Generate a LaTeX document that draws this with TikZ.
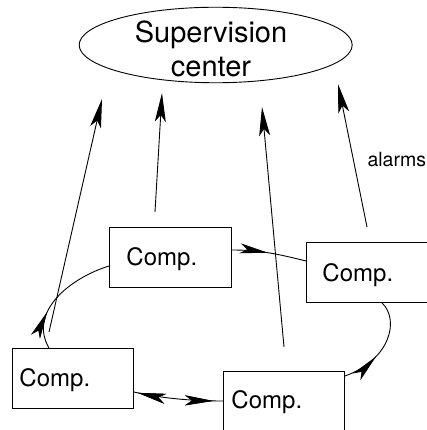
\documentclass[tikz,border=0pt]{standalone}
\usepackage{fontspec}
\setmainfont{TeX Gyre Heros}
\usetikzlibrary{arrows.meta,decorations.markings,calc,shapes.geometric}
\begin{document}
\begin{tikzpicture}[x=1pt,y=-1pt,line width=0.9pt,
  comp/.style={draw,rectangle,anchor=north west,inner sep=0pt,minimum height=60pt},
  complabel/.style={anchor=base west,inner sep=0pt,font=\fontsize{24}{28}\selectfont},
  title/.style={anchor=base,inner sep=0pt,font=\fontsize{29}{34}\selectfont},
  alarm/.style={-{Stealth[length=29pt,width=11pt,inset=7pt]}},
  midarrow/.style={postaction={decorate},decoration={markings,
    mark=at position #1 with {\arrow{Stealth[length=28pt,width=10pt,inset=7pt]}}}},
  backarrow/.style={postaction={decorate},decoration={markings,
    mark=at position #1 with {\arrowreversed{Stealth[length=28pt,width=10pt,inset=7pt]}}}}]
\useasboundingbox (0,0) rectangle (427,430);

% supervision center
\node[draw,ellipse,minimum width=273pt,minimum height=75.5pt,inner sep=0pt] (sc) at (215.7,45) {};
\node[title] (sc1) at (211,42.5) {Supervision};
\node[title] (sc2) at (211,77) {center};

% components
\node[comp,minimum width=122pt] (b1) at (109,227) {};
\node[comp,minimum width=120.5pt] (b2) at (306,242) {};
\node[comp,minimum width=121pt] (b3) at (12,348) {};
\node[comp,minimum width=121pt,minimum height=64pt] (b4) at (223,371) {};
\node[complabel] (l1) at (126,265) {Comp.};
\node[complabel] (l2) at (322,281.5) {Comp.};
\node[complabel] (l3) at (19,386) {Comp.};
\node[complabel] (l4) at (231,408) {Comp.};

% alarm arrows towards the supervision center
\coordinate (a1s) at (49,332);  \coordinate (a1e) at (102,99);
\coordinate (a2s) at (155,212); \coordinate (a2e) at (162,93);
\coordinate (a3s) at (284,347); \coordinate (a3e) at (262,107);
\coordinate (a4s) at (367,227); \coordinate (a4e) at (338,84);
\draw[alarm] (a1s) -- (a1e);
\draw[alarm] (a2s) -- (a2e);
\draw[alarm] (a3s) -- (a3e);
\draw[alarm] (a4s) -- (a4e);
\node[anchor=base east,inner sep=0pt,font=\fontsize{19.5}{23}\selectfont] (al) at (426.5,166.5) {alarms};

% links between components
\draw[midarrow=36pt] ($(b1.north east)+(0,23)$) .. controls (260,250) and (278,254) .. ($(b2.north west)+(0,19)$);
\draw[midarrow=38pt] ($(b3.north west)+(37,0)$) .. controls (28,312) and (70,278) .. ($(b1.north west)+(0,39)$);
\draw[midarrow=37pt] ($(b4.north east)+(0,5)$) .. controls (390,360) and (400,320) .. ($(b2.south west)+(76,0)$);
\draw[backarrow=4pt,midarrow=-10pt] ($(b3.north east)+(0,44)$) .. controls (160,398) and (190,401) .. ($(b4.north west)+(0,30)$);
\end{tikzpicture}
\end{document}
